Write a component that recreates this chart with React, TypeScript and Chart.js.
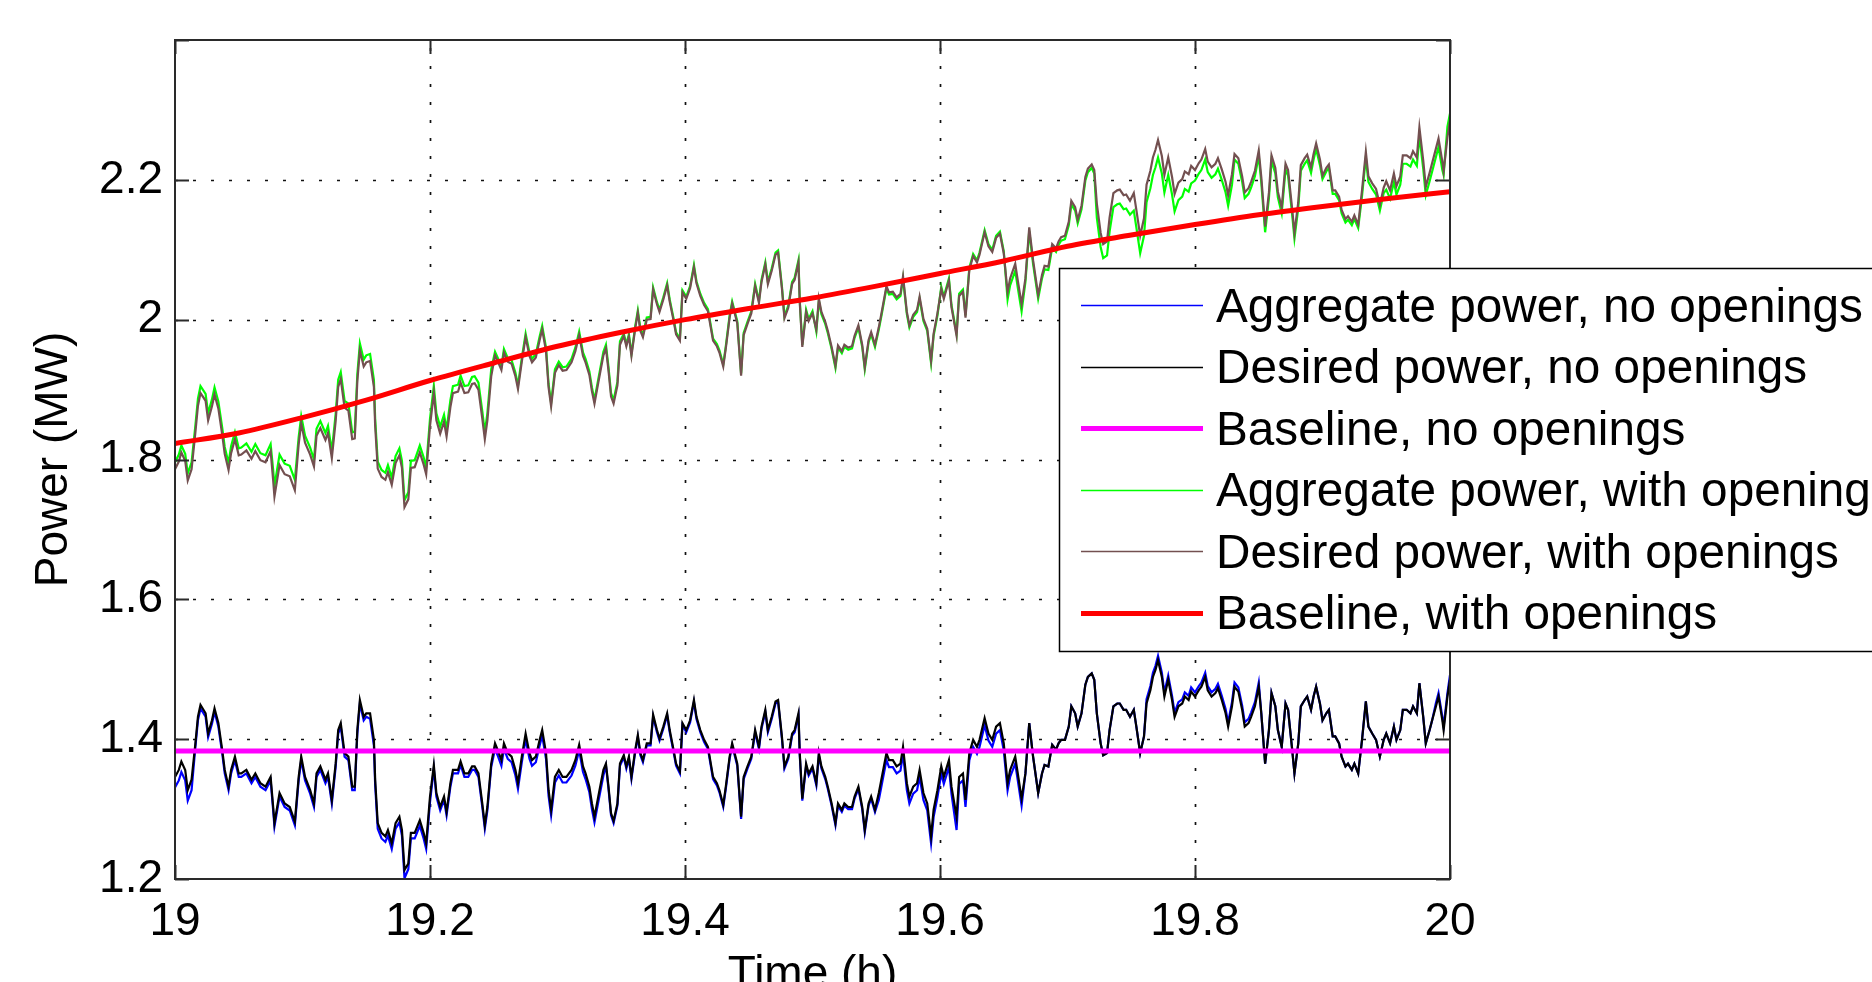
import React, { useEffect, useRef } from 'react';
import { Chart, registerables } from 'chart.js';

Chart.register(...registerables);

// ---------------- data ----------------
const TIME = [
  19.000,19.003,19.005,19.008,19.010,19.013,19.016,19.018,19.020,19.024,19.026,19.029,19.031,19.034,19.037,19.039,19.042,19.044,19.047,19.050,
  19.052,19.056,19.060,19.063,19.067,19.071,19.075,19.077,19.078,19.082,19.086,19.090,19.094,19.097,19.099,
  19.102,19.106,19.109,19.111,19.114,19.118,19.120,19.123,19.126,19.128,19.130,19.133,19.136,19.139,19.141,19.143,19.145,19.148,19.150,
  19.153,19.156,19.157,19.159,19.162,19.165,19.167,19.170,19.173,19.176,19.178,19.180,19.183,19.185,19.188,19.192,19.195,19.197,19.200,
  19.203,19.205,19.208,19.211,19.213,19.216,19.218,19.222,19.224,19.227,19.230,19.233,19.235,19.238,19.241,19.243,19.245,19.248,
  19.251,19.253,19.256,19.258,19.261,19.264,19.267,19.269,19.272,19.275,19.278,19.280,19.283,19.286,19.288,19.291,19.293,19.295,19.298,
  19.301,19.304,19.307,19.311,19.314,19.317,19.320,19.322,19.325,19.327,19.329,19.332,19.336,19.338,19.340,19.342,19.344,19.347,19.349,
  19.352,19.354,19.356,19.358,19.361,19.363,19.365,19.367,19.370,19.373,19.375,19.378,19.380,19.383,19.386,19.388,19.391,19.393,19.396,19.398,
  19.401,19.404,19.407,19.409,19.412,19.415,19.418,19.422,19.425,19.427,19.430,19.432,19.435,19.437,19.441,19.444,19.446,19.449,
  19.452,19.455,19.458,19.460,19.463,19.465,19.468,19.471,19.473,19.476,19.478,19.481,19.484,19.486,19.489,19.490,19.492,19.495,19.497,19.500,
  19.503,19.505,19.507,19.510,19.512,19.515,19.518,19.520,19.523,19.525,19.528,19.531,19.533,19.536,19.539,19.541,19.544,19.546,19.549,
  19.552,19.554,19.558,19.560,19.563,19.566,19.569,19.571,19.574,19.576,19.579,19.582,19.584,19.587,19.590,19.593,19.595,19.598,
  19.601,19.603,19.607,19.609,19.613,19.615,19.618,19.620,19.623,19.626,19.629,19.631,19.635,19.638,19.641,19.644,19.647,19.650,
  19.653,19.655,19.659,19.661,19.664,19.667,19.670,19.673,19.677,19.680,19.682,19.685,19.688,19.691,19.693,19.695,19.698,
  19.701,19.703,19.706,19.708,19.711,19.714,19.716,19.719,19.721,19.723,19.726,19.728,19.731,19.733,19.736,19.739,19.741,19.744,19.746,19.749,
  19.752,19.754,19.757,19.760,19.762,19.765,19.767,19.769,19.771,19.774,19.776,19.779,19.782,19.784,19.787,19.790,19.792,19.795,19.797,
  19.800,19.803,19.805,19.808,19.810,19.813,19.816,19.818,19.821,19.824,19.826,19.829,19.831,19.834,19.837,19.839,19.842,19.844,19.847,
  19.850,19.852,19.855,19.858,19.860,19.863,19.865,19.868,19.871,19.873,19.876,19.878,19.881,19.883,19.886,19.888,19.891,19.893,19.895,19.898,
  19.900,19.903,19.905,19.908,19.910,19.913,19.915,19.918,19.920,19.923,19.925,19.928,19.931,19.934,19.936,19.939,19.942,19.945,19.948,
  19.950,19.953,19.956,19.958,19.961,19.963,19.966,19.969,19.971,19.974,19.976,19.979,19.981,19.984,19.986,19.989,19.991,19.994,19.995,19.998,20.000,
];

// Aggregate power, no openings (blue)
const AGG_NO = [
  1.331,1.341,1.353,1.341,1.312,1.327,1.389,1.427,1.444,1.432,1.403,1.422,1.439,1.418,1.380,1.351,1.327,1.351,1.370,1.346,
  1.346,1.351,1.337,1.346,1.332,1.327,1.341,1.298,1.275,1.318,1.303,1.298,1.277,1.341,1.370,
  1.341,1.322,1.303,1.346,1.356,1.337,1.346,1.308,1.360,1.408,1.418,1.375,1.370,1.327,1.327,1.408,1.451,1.427,1.432,
  1.429,1.391,1.334,1.272,1.258,1.253,1.262,1.243,1.272,1.281,1.262,1.201,1.214,1.258,1.258,1.276,1.258,1.243,1.310,
  1.358,1.318,1.298,1.313,1.291,1.332,1.351,1.351,1.363,1.346,1.346,1.356,1.356,1.346,1.303,1.272,1.298,1.360,
  1.386,1.377,1.362,1.386,1.372,1.367,1.348,1.329,1.367,1.400,1.372,1.362,1.367,1.391,1.405,1.372,1.319,1.291,1.338,
  1.348,1.338,1.338,1.348,1.362,1.384,1.353,1.343,1.324,1.300,1.281,1.310,1.348,1.362,1.329,1.291,1.280,1.305,1.362,
  1.374,1.358,1.372,1.343,1.382,1.403,1.377,1.367,1.391,1.391,1.432,1.410,1.398,1.415,1.434,1.410,1.382,1.362,1.351,1.420,
  1.410,1.424,1.453,1.429,1.410,1.396,1.386,1.343,1.334,1.324,1.303,1.329,1.372,1.391,1.362,1.286,1.343,1.358,
  1.372,1.410,1.386,1.415,1.439,1.410,1.429,1.451,1.453,1.401,1.358,1.372,1.405,1.410,1.434,1.377,1.312,1.362,1.348,1.358,
  1.334,1.377,1.358,1.343,1.329,1.305,1.277,1.305,1.296,1.305,1.300,1.300,1.315,1.329,1.300,1.267,1.305,1.315,1.296,
  1.313,1.332,1.370,1.360,1.360,1.351,1.355,1.379,1.327,1.308,1.322,1.327,1.346,1.313,1.298,1.251,1.289,1.317,
  1.351,1.336,1.360,1.322,1.270,1.336,1.341,1.303,1.370,1.389,1.379,1.389,1.420,1.398,1.389,1.408,1.413,1.384,
  1.327,1.346,1.365,1.341,1.305,1.351,1.423,1.375,1.323,1.351,1.363,1.361,1.392,1.385,1.394,1.399,1.399,
  1.418,1.447,1.437,1.418,1.437,1.478,1.489,1.494,1.485,1.437,1.394,1.377,1.380,1.413,1.447,1.451,1.451,1.442,1.442,1.432,
  1.442,1.418,1.380,1.404,1.457,1.476,1.495,1.505,1.519,1.495,1.467,1.491,1.462,1.438,1.453,1.457,1.467,1.462,1.474,
  1.467,1.476,1.481,1.495,1.476,1.467,1.472,1.479,1.462,1.443,1.424,1.453,1.481,1.474,1.448,1.424,1.429,1.438,1.453,
  1.481,1.437,1.365,1.413,1.466,1.447,1.413,1.389,1.451,1.442,1.389,1.351,1.394,1.447,1.456,1.461,1.442,1.461,1.475,1.451,
  1.427,1.437,1.442,1.404,1.404,1.394,1.375,1.361,1.365,1.356,1.365,1.351,1.399,1.454,1.418,1.408,1.399,1.375,1.399,
  1.408,1.394,1.418,1.399,1.413,1.442,1.442,1.437,1.447,1.437,1.480,1.432,1.394,1.413,1.427,1.452,1.466,1.432,1.418,1.466,1.492,
];

// Desired power, no openings (black)
const DES_NO = [
  1.346,1.356,1.368,1.356,1.327,1.342,1.394,1.432,1.449,1.437,1.408,1.427,1.444,1.423,1.385,1.356,1.332,1.356,1.375,1.351,
  1.351,1.356,1.342,1.351,1.337,1.332,1.346,1.303,1.280,1.323,1.308,1.303,1.282,1.346,1.375,
  1.346,1.327,1.308,1.351,1.361,1.342,1.351,1.313,1.365,1.413,1.423,1.380,1.375,1.332,1.332,1.413,1.456,1.432,1.437,
  1.437,1.399,1.342,1.280,1.266,1.261,1.270,1.251,1.280,1.289,1.270,1.213,1.222,1.266,1.266,1.284,1.266,1.251,1.318,
  1.363,1.323,1.303,1.318,1.296,1.337,1.356,1.356,1.368,1.351,1.351,1.361,1.361,1.351,1.308,1.277,1.303,1.365,
  1.394,1.385,1.370,1.394,1.380,1.375,1.356,1.337,1.375,1.408,1.380,1.370,1.375,1.399,1.413,1.380,1.327,1.299,1.346,
  1.356,1.346,1.346,1.356,1.370,1.392,1.361,1.351,1.332,1.308,1.289,1.318,1.356,1.365,1.332,1.294,1.283,1.308,1.365,
  1.377,1.361,1.375,1.346,1.385,1.406,1.380,1.370,1.394,1.394,1.435,1.413,1.401,1.418,1.437,1.413,1.385,1.365,1.354,1.423,
  1.413,1.427,1.456,1.432,1.413,1.399,1.389,1.346,1.337,1.327,1.306,1.332,1.375,1.394,1.365,1.289,1.346,1.361,
  1.375,1.413,1.389,1.418,1.442,1.413,1.432,1.454,1.456,1.404,1.361,1.375,1.408,1.413,1.437,1.380,1.315,1.365,1.351,1.361,
  1.337,1.380,1.361,1.346,1.332,1.308,1.280,1.308,1.299,1.308,1.303,1.303,1.318,1.332,1.303,1.270,1.308,1.318,1.299,
  1.323,1.342,1.380,1.370,1.370,1.361,1.365,1.389,1.337,1.318,1.332,1.337,1.356,1.323,1.308,1.261,1.299,1.327,
  1.361,1.346,1.370,1.332,1.289,1.346,1.351,1.313,1.380,1.399,1.389,1.399,1.430,1.408,1.399,1.418,1.423,1.394,
  1.337,1.356,1.375,1.351,1.315,1.351,1.423,1.375,1.323,1.351,1.363,1.361,1.392,1.385,1.394,1.399,1.399,
  1.418,1.447,1.437,1.418,1.437,1.478,1.489,1.494,1.485,1.437,1.394,1.377,1.380,1.413,1.447,1.451,1.451,1.442,1.442,1.432,
  1.442,1.418,1.380,1.404,1.451,1.470,1.489,1.499,1.513,1.489,1.461,1.485,1.456,1.432,1.447,1.451,1.461,1.456,1.468,
  1.461,1.470,1.475,1.489,1.470,1.461,1.466,1.473,1.456,1.437,1.418,1.447,1.475,1.468,1.442,1.418,1.423,1.432,1.447,
  1.475,1.437,1.365,1.413,1.466,1.447,1.413,1.389,1.451,1.442,1.389,1.351,1.394,1.447,1.456,1.461,1.442,1.461,1.475,1.451,
  1.427,1.437,1.442,1.404,1.404,1.394,1.375,1.361,1.365,1.356,1.365,1.351,1.399,1.454,1.418,1.408,1.399,1.375,1.399,
  1.408,1.394,1.418,1.399,1.413,1.442,1.442,1.437,1.447,1.437,1.480,1.432,1.394,1.413,1.427,1.447,1.461,1.427,1.413,1.461,1.485,
];

// Aggregate power, with openings (green)
const AGG_WITH = [
  1.796,1.807,1.820,1.808,1.780,1.796,1.849,1.887,1.905,1.894,1.866,1.886,1.903,1.883,1.846,1.818,1.795,1.819,1.839,1.816,
  1.817,1.823,1.811,1.822,1.809,1.806,1.822,1.785,1.762,1.807,1.794,1.791,1.771,1.832,1.862,
  1.834,1.817,1.800,1.844,1.855,1.838,1.848,1.812,1.865,1.914,1.925,1.884,1.880,1.839,1.840,1.922,1.966,1.943,1.949,
  1.951,1.914,1.858,1.797,1.785,1.781,1.792,1.774,1.805,1.816,1.798,1.742,1.753,1.798,1.799,1.820,1.803,1.789,1.858,
  1.905,1.866,1.847,1.864,1.843,1.885,1.905,1.907,1.920,1.905,1.906,1.918,1.919,1.910,1.869,1.839,1.866,1.929,
  1.954,1.946,1.933,1.958,1.945,1.942,1.924,1.906,1.945,1.980,1.953,1.944,1.951,1.976,1.991,1.960,1.908,1.881,1.929,
  1.940,1.932,1.933,1.944,1.960,1.983,1.953,1.944,1.926,1.903,1.885,1.915,1.954,1.964,1.932,1.895,1.885,1.911,1.969,
  1.980,1.965,1.979,1.951,1.991,2.013,1.987,1.978,2.003,2.004,2.046,2.025,2.014,2.032,2.052,2.029,2.002,1.982,1.973,2.042,
  2.033,2.048,2.078,2.055,2.037,2.024,2.015,1.973,1.965,1.956,1.936,1.962,2.006,2.026,1.998,1.923,1.981,1.997,
  2.012,2.051,2.027,2.057,2.082,2.054,2.073,2.096,2.099,2.048,2.005,2.020,2.054,2.060,2.085,2.028,1.964,2.014,2.001,2.012,
  1.983,2.027,2.008,1.994,1.981,1.958,1.931,1.960,1.952,1.961,1.957,1.959,1.974,1.989,1.961,1.929,1.968,1.979,1.961,
  1.986,2.005,2.045,2.036,2.037,2.029,2.034,2.059,2.008,1.989,2.004,2.011,2.030,1.998,1.984,1.938,1.977,2.006,
  2.047,2.033,2.059,2.021,1.980,2.037,2.043,2.006,2.074,2.094,2.085,2.096,2.128,2.108,2.100,2.120,2.126,2.098,
  2.029,2.049,2.070,2.046,2.012,2.054,2.127,2.080,2.030,2.059,2.072,2.071,2.103,2.097,2.107,2.113,2.115,
  2.135,2.165,2.156,2.138,2.158,2.199,2.211,2.217,2.209,2.146,2.104,2.088,2.092,2.126,2.161,2.165,2.166,2.158,2.159,2.150,
  2.156,2.132,2.095,2.120,2.168,2.188,2.207,2.218,2.232,2.209,2.182,2.207,2.179,2.155,2.171,2.176,2.187,2.183,2.195,
  2.199,2.209,2.214,2.229,2.211,2.203,2.208,2.216,2.200,2.182,2.163,2.193,2.229,2.223,2.197,2.174,2.180,2.189,2.205,
  2.234,2.196,2.125,2.174,2.227,2.209,2.175,2.152,2.215,2.206,2.154,2.116,2.160,2.213,2.223,2.228,2.210,2.229,2.244,2.221,
  2.201,2.212,2.217,2.180,2.180,2.171,2.152,2.139,2.143,2.135,2.144,2.131,2.177,2.232,2.197,2.187,2.179,2.156,2.181,
  2.186,2.173,2.197,2.179,2.193,2.223,2.223,2.219,2.229,2.220,2.263,2.216,2.178,2.198,2.212,2.233,2.247,2.214,2.207,2.276,2.295,
];

// Desired power, with openings (brown)
const DES_WITH = [
  1.786,1.797,1.810,1.798,1.770,1.786,1.839,1.877,1.895,1.884,1.856,1.876,1.893,1.873,1.836,1.808,1.785,1.809,1.829,1.806,
  1.807,1.813,1.801,1.812,1.799,1.796,1.812,1.770,1.747,1.792,1.779,1.776,1.756,1.822,1.852,
  1.824,1.807,1.790,1.834,1.845,1.828,1.838,1.802,1.855,1.904,1.915,1.874,1.870,1.829,1.830,1.912,1.956,1.933,1.939,
  1.941,1.904,1.848,1.787,1.775,1.771,1.782,1.764,1.795,1.806,1.788,1.732,1.743,1.788,1.789,1.810,1.793,1.779,1.848,
  1.895,1.856,1.837,1.854,1.833,1.875,1.895,1.897,1.910,1.895,1.896,1.908,1.909,1.900,1.859,1.829,1.856,1.919,
  1.949,1.941,1.928,1.953,1.940,1.937,1.919,1.901,1.940,1.975,1.948,1.939,1.946,1.971,1.986,1.955,1.903,1.876,1.924,
  1.935,1.927,1.928,1.939,1.955,1.978,1.948,1.939,1.921,1.898,1.880,1.910,1.949,1.959,1.927,1.890,1.880,1.906,1.964,
  1.977,1.962,1.976,1.948,1.988,2.010,1.984,1.975,2.000,2.001,2.043,2.022,2.011,2.029,2.049,2.026,1.999,1.979,1.970,2.039,
  2.030,2.045,2.075,2.052,2.034,2.021,2.012,1.970,1.962,1.953,1.933,1.959,2.003,2.023,1.995,1.920,1.978,1.994,
  2.009,2.048,2.024,2.054,2.079,2.051,2.070,2.093,2.096,2.045,2.002,2.017,2.051,2.057,2.082,2.025,1.961,2.011,1.998,2.009,
  1.986,2.030,2.011,1.997,1.984,1.961,1.934,1.963,1.955,1.964,1.960,1.962,1.977,1.992,1.964,1.932,1.971,1.982,1.964,
  1.989,2.008,2.048,2.039,2.040,2.032,2.037,2.062,2.011,1.992,2.007,2.014,2.033,2.001,1.987,1.941,1.980,2.009,
  2.044,2.030,2.056,2.018,1.977,2.034,2.040,2.003,2.071,2.091,2.082,2.093,2.125,2.105,2.097,2.117,2.123,2.095,
  2.039,2.059,2.080,2.056,2.022,2.059,2.132,2.085,2.035,2.064,2.077,2.076,2.108,2.102,2.112,2.118,2.120,
  2.140,2.170,2.161,2.143,2.163,2.204,2.216,2.222,2.214,2.166,2.124,2.108,2.112,2.146,2.181,2.185,2.186,2.178,2.179,2.170,
  2.181,2.157,2.120,2.145,2.193,2.213,2.232,2.243,2.257,2.234,2.207,2.232,2.204,2.180,2.196,2.201,2.212,2.208,2.220,
  2.214,2.224,2.229,2.244,2.226,2.218,2.223,2.231,2.215,2.197,2.178,2.208,2.237,2.231,2.205,2.182,2.188,2.197,2.213,
  2.242,2.204,2.133,2.182,2.235,2.217,2.183,2.160,2.223,2.214,2.162,2.124,2.168,2.221,2.231,2.236,2.218,2.237,2.252,2.229,
  2.206,2.217,2.222,2.185,2.185,2.176,2.157,2.144,2.148,2.140,2.149,2.136,2.185,2.240,2.205,2.195,2.187,2.164,2.189,
  2.198,2.185,2.209,2.191,2.205,2.235,2.235,2.231,2.241,2.232,2.275,2.228,2.190,2.210,2.224,2.245,2.259,2.226,2.212,2.261,2.285,
];

// Baselines
const BASE_NO_TIME = [19, 20];
const BASE_NO = [1.383, 1.383];
const BASE_WITH_TIME = [19.00,19.05,19.10,19.15,19.20,19.25,19.30,19.35,19.40,19.45,19.50,19.55,19.60,19.65,19.70,19.75,19.80,19.85,19.90,19.95,20.00];
const BASE_WITH = [1.823,1.838,1.860,1.885,1.913,1.938,1.962,1.982,2.000,2.016,2.031,2.048,2.066,2.084,2.105,2.121,2.136,2.150,2.162,2.173,2.183];

const SERIES_LABELS = [
  'Aggregate power, no openings',
  'Desired power, no openings',
  'Baseline, no openings',
  'Aggregate power, with openings',
  'Desired power, with openings',
  'Baseline, with openings',
];

const X_LABEL = 'Time (h)';
const Y_LABEL = 'Power (MW)';

// ---------------- helpers ----------------
const FONT = "'Liberation Sans', Arial, Helvetica, sans-serif";

function pts(xs: number[], ys: number[]) {
  const n = Math.min(xs.length, ys.length);
  const out: { x: number; y: number }[] = [];
  for (let i = 0; i < n; i++) out.push({ x: xs[i], y: ys[i] });
  return out;
}

const fmt = (v: number) => String(Number(Number(v).toFixed(1)));

const matlabPlugin = {
  id: 'matlabAxes',
  beforeDatasetsDraw(chart: any) {
    const { ctx, chartArea: a, scales } = chart;
    const x = scales.x, y = scales.y;
    ctx.save();
    ctx.strokeStyle = '#111';
    ctx.lineWidth = 1.7;
    ctx.setLineDash([3, 15]);
    x.ticks.forEach((t: any) => {
      const px = Math.round(x.getPixelForValue(t.value)) + 0.5;
      if (px > a.left + 2 && px < a.right - 2) {
        ctx.beginPath(); ctx.moveTo(px, a.bottom); ctx.lineTo(px, a.top); ctx.stroke();
      }
    });
    y.ticks.forEach((t: any) => {
      const py = Math.round(y.getPixelForValue(t.value)) + 0.5;
      if (py > a.top + 2 && py < a.bottom - 2) {
        ctx.beginPath(); ctx.moveTo(a.left, py); ctx.lineTo(a.right, py); ctx.stroke();
      }
    });
    ctx.restore();
  },
  afterDatasetsDraw(chart: any) {
    const { ctx, chartArea: a, scales } = chart;
    const x = scales.x, y = scales.y;
    const TL = 14;
    ctx.save();
    ctx.setLineDash([]);
    ctx.strokeStyle = '#2a2a2a';
    ctx.lineWidth = 2;
    x.ticks.forEach((t: any) => {
      const px = Math.round(x.getPixelForValue(t.value)) + 0.5;
      ctx.beginPath();
      ctx.moveTo(px, a.bottom); ctx.lineTo(px, a.bottom - TL);
      ctx.moveTo(px, a.top); ctx.lineTo(px, a.top + TL);
      ctx.stroke();
    });
    y.ticks.forEach((t: any) => {
      const py = Math.round(y.getPixelForValue(t.value)) + 0.5;
      ctx.beginPath();
      ctx.moveTo(a.left, py); ctx.lineTo(a.left + TL, py);
      ctx.moveTo(a.right, py); ctx.lineTo(a.right - TL, py);
      ctx.stroke();
    });
    ctx.strokeRect(a.left, a.top, a.right - a.left, a.bottom - a.top);
    ctx.restore();
  },
  afterDraw(chart: any) {
    const { ctx } = chart;
    const L = 1059, T = 268, B = 651, R = 1900;
    ctx.save();
    ctx.setLineDash([]);
    ctx.fillStyle = '#ffffff';
    ctx.fillRect(L, T, R - L, B - T);
    ctx.strokeStyle = '#000';
    ctx.lineWidth = 1.5;
    ctx.strokeRect(L + 0.5, T + 0.5, R - L, B - T);
    ctx.font = `47.7px ${FONT}`;
    ctx.textBaseline = 'alphabetic';
    ctx.textAlign = 'left';
    const ds = chart.data.datasets;
    ds.forEach((d: any, i: number) => {
      const cy = 305 + i * 61.5;
      ctx.strokeStyle = d.borderColor;
      ctx.lineWidth = d.legendWidth;
      ctx.beginPath();
      ctx.moveTo(1081, Math.round(cy) + 0.5);
      ctx.lineTo(1203, Math.round(cy) + 0.5);
      ctx.stroke();
      ctx.fillStyle = '#000';
      ctx.fillText(d.label, 1216, cy + 16.5);
    });
    ctx.restore();
  },
};

export default function App() {
  const ref = useRef<HTMLCanvasElement>(null);

  useEffect(() => {
    const canvas = ref.current;
    if (!canvas) return;
    const W = 1872, H = 1010;
    const chart = new Chart(canvas, {
      type: 'line',
      data: {
        datasets: [
          { label: SERIES_LABELS[0], data: pts(TIME, AGG_NO), borderColor: '#0000ff', borderWidth: 2.2, order: 6, legendWidth: 1.3 } as any,
          { label: SERIES_LABELS[1], data: pts(TIME, DES_NO), borderColor: '#000000', borderWidth: 2.2, order: 5, legendWidth: 1.3 } as any,
          { label: SERIES_LABELS[2], data: pts(BASE_NO_TIME, BASE_NO), borderColor: '#ff00ff', borderWidth: 5, order: 4, legendWidth: 5 } as any,
          { label: SERIES_LABELS[3], data: pts(TIME, AGG_WITH), borderColor: '#00ff00', borderWidth: 2.2, order: 3, legendWidth: 1.3 } as any,
          { label: SERIES_LABELS[4], data: pts(TIME, DES_WITH), borderColor: '#735050', borderWidth: 2.2, order: 2, legendWidth: 1.3 } as any,
          { label: SERIES_LABELS[5], data: pts(BASE_WITH_TIME, BASE_WITH), borderColor: '#ff0000', borderWidth: 5, order: 1, legendWidth: 5, cubicInterpolationMode: 'monotone' } as any,
        ],
      },
      options: {
        animation: false,
        responsive: false,
        devicePixelRatio: 1,
        events: [],
        elements: { point: { radius: 0 }, line: { tension: 0, fill: false } },
        layout: { padding: { left: 0, top: 40, right: W - 1450, bottom: 0 } },
        plugins: { legend: { display: false }, tooltip: { enabled: false }, title: { display: false } },
        scales: {
          x: {
            type: 'linear',
            min: 19,
            max: 20,
            grid: { display: false, drawTicks: false },
            border: { display: false },
            ticks: {
              stepSize: 0.2,
              padding: 16,
              color: '#000',
              font: { family: FONT, size: 46 },
              maxRotation: 0,
              callback: (v: any) => fmt(v),
            },
            title: {
              display: true,
              text: X_LABEL,
              color: '#000',
              font: { family: FONT, size: 46 },
              padding: { top: 0, bottom: 7 },
            },
            afterFit: (s: any) => { s.height = H - 879; },
          },
          y: {
            type: 'linear',
            min: 1.2,
            max: 2.4,
            grid: { display: false, drawTicks: false },
            border: { display: false },
            ticks: {
              stepSize: 0.2,
              padding: 12,
              color: '#000',
              font: { family: FONT, size: 46 },
              callback: (v: any) => (Math.abs(v - 2.4) < 1e-6 ? '' : fmt(v)),
            },
            title: {
              display: true,
              text: Y_LABEL,
              color: '#000',
              font: { family: FONT, size: 46 },
              padding: { top: 27, bottom: 0 },
            },
            afterFit: (s: any) => { s.width = 175; },
          },
        },
      } as any,
      plugins: [matlabPlugin],
    });
    return () => chart.destroy();
  }, []);

  return (
    <div style={{ position: 'fixed', left: 0, top: 0, width: 1872, height: 1010, background: '#ffffff' }}>
      <canvas ref={ref} width={1872} height={1010} style={{ display: 'block', width: '1872px', height: '1010px' }} />
    </div>
  );
}
